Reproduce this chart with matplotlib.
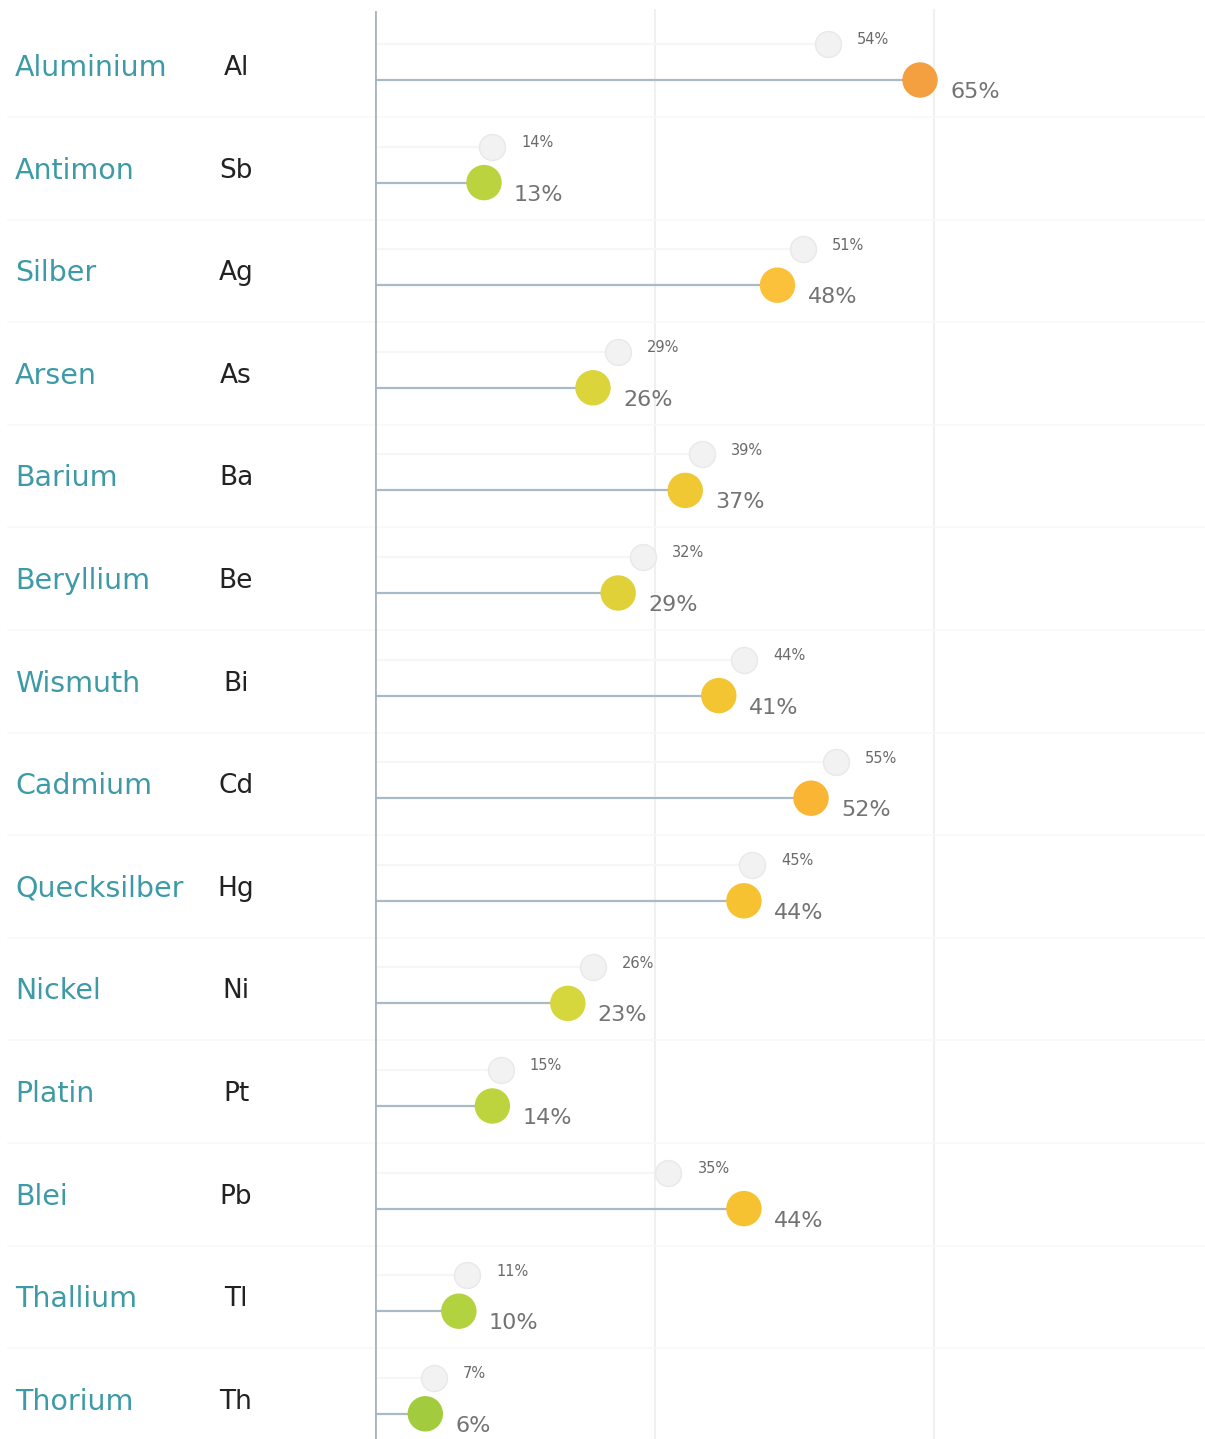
import matplotlib
matplotlib.use("Agg")
import matplotlib.pyplot as plt
from matplotlib.colors import LinearSegmentedColormap
from matplotlib.transforms import blended_transform_factory

names = ["Aluminium", "Antimon", "Silber", "Arsen", "Barium", "Beryllium", "Wismuth",
         "Cadmium", "Quecksilber", "Nickel", "Platin", "Blei", "Thallium", "Thorium"]
symbols = ["Al", "Sb", "Ag", "As", "Ba", "Be", "Bi", "Cd", "Hg", "Ni", "Pt", "Pb", "Tl", "Th"]
current = [65, 13, 48, 26, 37, 29, 41, 52, 44, 23, 14, 44, 10, 6]
previous = [54, 14, 51, 29, 39, 32, 44, 55, 45, 26, 15, 35, 11, 7]

plt.rcParams['font.family'] = ['DejaVu Sans']

W, H = 1205, 1439
fig = plt.figure(figsize=(W / 100, H / 100), dpi=100)
left_px = 375
px_per_pct = 8.385
row_px = 102.6
first_px = 80
ax = fig.add_axes([left_px / W, 0, (W - left_px) / W, 1])
ax.set_xlim(0, (W - left_px) / px_per_pct)
ax.set_ylim((H - first_px) / row_px, -first_px / row_px)
ax.axis('off')

cmap = LinearSegmentedColormap.from_list(
    "gy", [(0.0, '#8cc13c'), (10 / 65, '#b3d23f'), (23 / 65, '#d6d73c'),
           (37 / 65, '#efc834'), (44 / 65, '#f6c232'), (48 / 65, '#fcc23a'),
           (52 / 65, '#fbb535'), (1.0, '#f5a040')])

top_frac = 1 - 12 / H
# gridlines
for g in [100 / 3, 200 / 3]:
    ax.axvline(g, ymin=0, ymax=1 - 10 / H, color='#f0f0f0', lw=1.5, zorder=0)

blend = blended_transform_factory(fig.transFigure, ax.transData)
n = len(names)
grey_off = -36 / row_px
for i in range(n):
    # row separator
    ax.plot([8 / W, 1.0], [i + 37 / row_px] * 2, transform=blend, color='#f8f8f8',
            lw=1.2, clip_on=False, zorder=0)
    # faint previous line
    ax.plot([0, previous[i]], [i + grey_off] * 2, color='#f6f6f6', lw=1.5, zorder=1)
    # main line
    ax.plot([0, current[i]], [i, i], color='#a9bac6', lw=1.6, zorder=2)
    ax.scatter([previous[i]], [i + grey_off], s=350, color='#f2f2f2',
               edgecolor='#e9e9e9', linewidth=1, zorder=3)
    ax.scatter([current[i]], [i], s=650, color=cmap(current[i] / 65),
               edgecolor='none', zorder=4)
    ax.annotate(f"{current[i]}%", (current[i], i), xytext=(21.6, -8.6),
                textcoords='offset points', ha='left', va='center',
                fontsize=16, color='#737373', zorder=5)
    ax.annotate(f"{previous[i]}%", (previous[i], i + grey_off), xytext=(20.9, 2.9),
                textcoords='offset points', ha='left', va='center',
                fontsize=10.5, color='#6a6a6a', zorder=5)
    ax.text(15 / W, i - 12 / row_px, names[i], transform=blend, ha='left', va='center',
            fontsize=20.5, color='#3d9aa6')
    ax.text(236 / W, i - 12 / row_px, symbols[i], transform=blend, ha='center', va='center',
            fontsize=19, color='#222222')

# vertical axis line
ax.axvline(0, ymin=0, ymax=top_frac, color='#a6b5c0', lw=2, zorder=3)

fig.savefig("out.png", dpi=100)
